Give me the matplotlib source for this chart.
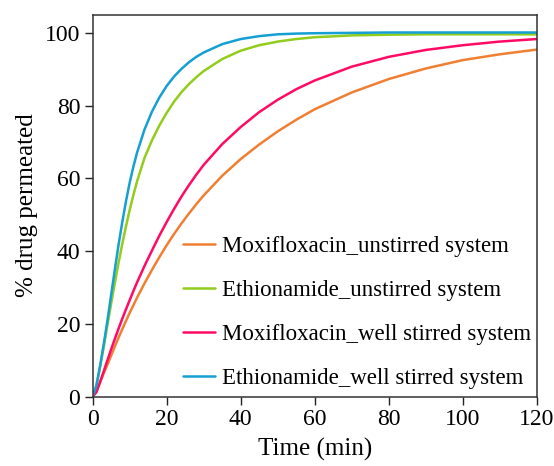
import matplotlib
matplotlib.use("Agg")
import matplotlib.pyplot as plt

plt.rcParams['font.family'] = ['Liberation Serif', 'DejaVu Serif']

time_min = [0, 1, 2, 3, 4, 5, 6, 7, 8, 9, 10, 11, 12,
            14, 16, 18, 20, 22, 24, 26, 28, 30,
            35, 40, 45, 50, 55, 60,
            70, 80, 90, 100, 110, 120]

moxi_unstirred = [0, 1.3, 3.9, 6.4, 8.8, 11.3, 13.8, 16.2, 18.5, 20.8, 23.0, 25.1, 27.2,
                  31.1, 34.8, 38.3, 41.6, 44.7, 47.6, 50.3, 52.9, 55.3,
                  60.7, 65.3, 69.3, 72.9, 76.1, 79.0,
                  83.6, 87.3, 90.2, 92.5, 94.1, 95.4]
ethio_unstirred = [0, 3.0, 8.0, 13.7, 19.7, 25.6, 31.3, 36.8, 42.0, 46.8, 51.3, 55.4, 59.2,
                   65.6, 70.4, 74.5, 78.0, 81.1, 83.7, 85.9, 87.8, 89.5,
                   92.8, 95.1, 96.6, 97.6, 98.3, 98.8,
                   99.3, 99.5, 99.6, 99.6, 99.6, 99.6]
moxi_stirred = [0, 1.2, 4.0, 7.0, 10.0, 13.0, 15.9, 18.7, 21.4, 24.0, 26.5, 29.0, 31.4,
                35.9, 40.1, 44.2, 48.0, 51.6, 55.0, 58.1, 61.0, 63.7,
                69.4, 74.1, 78.2, 81.6, 84.5, 86.9,
                90.7, 93.4, 95.3, 96.6, 97.6, 98.3]
ethio_stirred = [0, 3.0, 8.5, 14.5, 21.0, 28.0, 35.0, 41.8, 48.0, 53.7, 58.8, 63.2, 67.1,
                 73.4, 78.3, 82.2, 85.4, 88.0, 90.1, 91.9, 93.4, 94.6,
                 96.9, 98.3, 99.1, 99.6, 99.8, 99.9,
                 100.0, 100.1, 100.1, 100.1, 100.1, 100.1]

series = [
    ("Moxifloxacin_unstirred system", moxi_unstirred, "#F07F32"),
    ("Ethionamide_unstirred system", ethio_unstirred, "#92CC1C"),
    ("Moxifloxacin_well stirred system", moxi_stirred, "#FF0A64"),
    ("Ethionamide_well stirred system", ethio_stirred, "#14A0D2"),
]

fig = plt.figure(figsize=(5.54, 4.66), dpi=100)
ax = fig.add_axes([0.1673, 0.1491, 0.8015, 0.8194])

for label, vals, color in series:
    ax.plot(time_min, vals, color=color, lw=1.8, label=label,
            solid_joinstyle='round', solid_capstyle='round')

ax.set_xlim(0, 120)
ax.set_ylim(0, 105)
ax.set_xticks([0, 20, 40, 60, 80, 100, 120])
ax.set_yticks([0, 20, 40, 60, 80, 100])
ax.tick_params(direction='out', length=5.5, width=1.0, labelsize=17, colors='#222222',
               labelcolor='black', top=False, right=False)
for s in ax.spines.values():
    s.set_color('#333333')
    s.set_linewidth(1.1)

ax.set_xlabel("Time (min)", fontsize=18, labelpad=6)
ax.set_ylabel("% drug permeated", fontsize=18, labelpad=5)

leg = ax.legend(loc='lower right', frameon=False, fontsize=16.5, handlelength=1.4,
                handletextpad=0.3, labelspacing=1.0, borderaxespad=0.0,
                bbox_to_anchor=(1.008, -0.005))

fig.savefig("out.png", dpi=100)
